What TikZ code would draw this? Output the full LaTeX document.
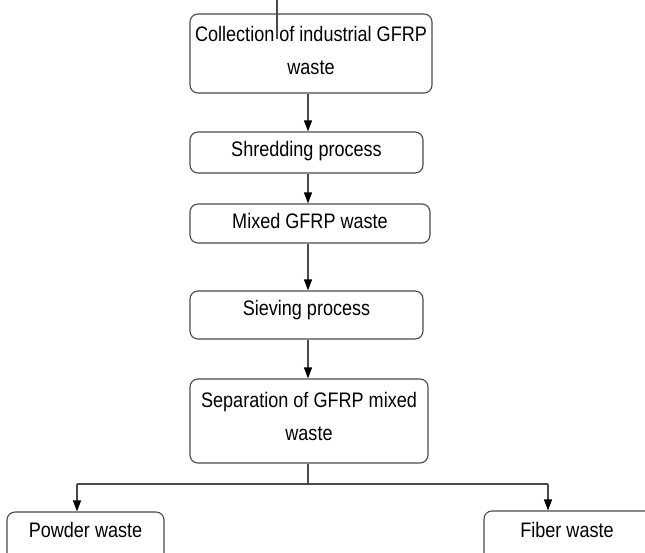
\documentclass[tikz,border=0pt]{standalone}
\usepackage{fontspec}
\setmainfont{Liberation Sans}[FakeStretch=0.86]
\usetikzlibrary{arrows.meta}
\definecolor{edge}{HTML}{4A4A4A}
\newcommand{\lbl}[2]{\raisebox{#1}[0pt][0pt]{\begin{tabular}[t]{@{}c@{}}#2\end{tabular}}}
\tikzset{
  stepbox/.style={draw=edge, line width=1.1pt, rounded corners=8pt,
    inner sep=0pt, font=\fontsize{21}{33}\selectfont, text=black},
  arr/.style={draw=edge, line width=1.1pt, -{Triangle[length=11pt,width=8pt,fill=black,color=black]}},
  ln/.style={draw=edge, line width=1.1pt}
}
\begin{document}
\begin{tikzpicture}[x=1pt,y=-1pt]
\useasboundingbox (0,0) rectangle (645,552);
\clip (0,0) rectangle (645,552);
\node[stepbox, minimum width=242pt, minimum height=79pt] (b1) at (311,53.5) {\lbl{12.5pt}{Collection of industrial GFRP\\waste}};
\node[stepbox, minimum width=233pt, minimum height=41pt] (b2) at (306.5,152.5) {\lbl{-3.5pt}{Shredding process}};
\node[stepbox, minimum width=240pt, minimum height=39pt] (b3) at (310,223.5) {\lbl{-4.5pt}{Mixed GFRP waste}};
\node[stepbox, minimum width=233pt, minimum height=48pt] (b4) at (306.5,315) {\lbl{0pt}{Sieving process}};
\node[stepbox, minimum width=238pt, minimum height=84pt] (b5) at (309,421) {\lbl{14pt}{Separation of GFRP mixed\\waste}};
\node[stepbox, minimum width=157pt, minimum height=60pt] (p) at (85.5,542) {\lbl{5pt}{Powder waste}};
\node[stepbox, minimum width=190pt, minimum height=60pt] (f) at (579,541) {\lbl{4pt}{\hspace*{-24pt}Fiber waste}};
\coordinate (ax) at (308,0);
\coordinate (j) at (308,484);
\coordinate (pl) at (77,484);
\coordinate (pr) at (548,484);
\coordinate (s1) at (277,0);
\coordinate (s2) at (277,39);
\draw[ln] (s1) -- (s2);
\draw[arr] (b1.south -| ax) -- (b2.north -| ax);
\draw[arr] (b2.south -| ax) -- (b3.north -| ax);
\draw[arr] (b3.south -| ax) -- (b4.north -| ax);
\draw[arr] (b4.south -| ax) -- (b5.north -| ax);
\draw[ln] (b5.south -| ax) -- (j);
\draw[ln] (pl) -- (pr);
\draw[arr] (pl) -- (pl |- p.north);
\draw[arr] (pr) -- (pr |- f.north);
\end{tikzpicture}
\end{document}
